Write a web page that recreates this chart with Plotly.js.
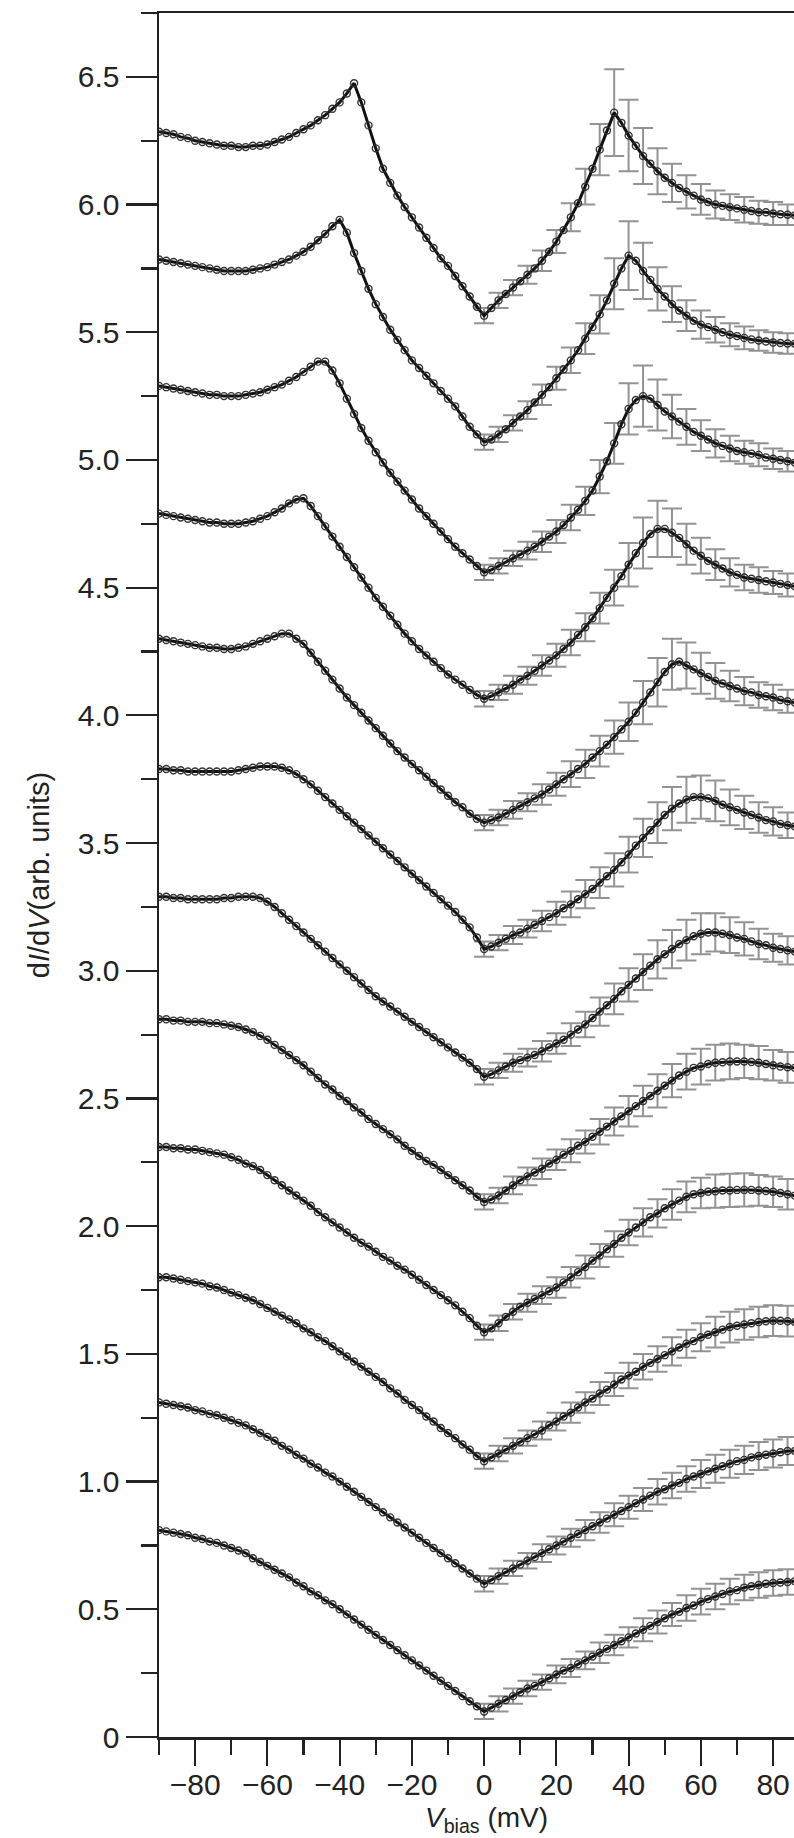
<!DOCTYPE html>
<html>
<head>
<meta charset="utf-8">
<script src="https://cdn.plot.ly/plotly-3.0.1.min.js"></script>
<style>
html,body{margin:0;padding:0;background:#fff;}
#chart{width:794px;height:1838px;}
</style>
</head>
<body>
<div id="chart"></div>
<script>
// Bias voltage grid (mV)
const biasMV = [-90,-88,-86,-84,-82,-80,-78,-76,-74,-72,
  -70,-68,-66,-64,-62,-60,-58,-56,-54,-52,
  -50,-48,-46,-44,-42,-40,-38,-36,-34,-32,
  -30,-28,-26,-24,-22,-20,-18,-16,-14,-12,
  -10,-8,-6,-4,-2,0,2,4,6,8,
  10,12,14,16,18,20,22,24,26,28,
  30,32,34,36,38,40,42,44,46,48,
  50,52,54,56,58,60,62,64,66,68,
  70,72,74,76,78,80,82,84,86];

// Bias values that carry error bars (mV)
const errBiasMV = [0,4,8,12,16,20,24,28,32,36,40,44,48,52,56,60,64,68,72,76,80,84];

// dI/dV spectra (offset), bottom (00) to top (11)
const dIdV_00 = [0.81,0.805,0.80,0.795,0.79,0.78,0.775,0.765,0.76,0.75,
  0.74,0.73,0.72,0.70,0.685,0.67,0.655,0.64,0.625,0.605,
  0.59,0.57,0.555,0.535,0.52,0.50,0.48,0.46,0.44,0.42,
  0.40,0.38,0.36,0.34,0.32,0.30,0.28,0.26,0.24,0.22,
  0.20,0.18,0.16,0.14,0.12,0.10,0.115,0.13,0.145,0.16,
  0.175,0.19,0.20,0.215,0.23,0.245,0.26,0.27,0.285,0.30,
  0.315,0.33,0.345,0.36,0.375,0.39,0.405,0.42,0.435,0.45,
  0.465,0.48,0.49,0.505,0.515,0.53,0.54,0.55,0.56,0.57,
  0.575,0.585,0.59,0.595,0.60,0.603,0.605,0.607,0.61];
const dIdV_01 = [1.31,1.305,1.30,1.295,1.29,1.28,1.275,1.265,1.26,1.25,
  1.24,1.23,1.22,1.205,1.19,1.175,1.16,1.14,1.125,1.105,
  1.09,1.07,1.055,1.035,1.02,1.00,0.98,0.96,0.94,0.92,
  0.90,0.88,0.86,0.84,0.82,0.80,0.78,0.76,0.74,0.72,
  0.70,0.68,0.66,0.64,0.62,0.60,0.615,0.63,0.645,0.66,
  0.675,0.69,0.705,0.72,0.735,0.75,0.765,0.78,0.795,0.81,
  0.825,0.84,0.855,0.87,0.885,0.90,0.915,0.93,0.945,0.96,
  0.97,0.985,0.995,1.01,1.02,1.03,1.04,1.05,1.06,1.07,
  1.08,1.085,1.095,1.10,1.105,1.11,1.115,1.12,1.12];
const dIdV_02 = [1.80,1.80,1.795,1.79,1.785,1.78,1.775,1.765,1.76,1.75,
  1.74,1.73,1.72,1.71,1.695,1.68,1.665,1.65,1.635,1.62,
  1.60,1.585,1.565,1.55,1.53,1.51,1.49,1.47,1.45,1.43,
  1.41,1.39,1.365,1.345,1.32,1.30,1.28,1.255,1.235,1.21,
  1.19,1.17,1.145,1.125,1.10,1.08,1.095,1.11,1.125,1.14,
  1.155,1.17,1.185,1.20,1.22,1.235,1.255,1.27,1.29,1.31,
  1.325,1.345,1.36,1.38,1.40,1.415,1.43,1.45,1.465,1.48,
  1.495,1.51,1.525,1.54,1.55,1.565,1.575,1.585,1.595,1.605,
  1.61,1.615,1.62,1.625,1.628,1.63,1.63,1.628,1.625];
const dIdV_03 = [2.31,2.31,2.305,2.305,2.30,2.30,2.295,2.29,2.285,2.28,
  2.27,2.26,2.245,2.235,2.22,2.20,2.18,2.16,2.14,2.12,
  2.10,2.08,2.055,2.035,2.015,1.995,1.975,1.955,1.935,1.92,
  1.90,1.88,1.865,1.845,1.83,1.81,1.79,1.77,1.75,1.73,
  1.71,1.69,1.665,1.64,1.61,1.585,1.60,1.62,1.645,1.665,
  1.685,1.70,1.715,1.73,1.745,1.76,1.78,1.80,1.82,1.84,
  1.865,1.885,1.91,1.93,1.955,1.975,1.995,2.015,2.035,2.05,
  2.07,2.085,2.10,2.115,2.125,2.13,2.135,2.137,2.14,2.14,
  2.142,2.142,2.142,2.14,2.138,2.135,2.13,2.125,2.12];
const dIdV_04 = [2.81,2.81,2.805,2.805,2.80,2.80,2.80,2.795,2.795,2.79,
  2.785,2.78,2.77,2.76,2.745,2.73,2.71,2.69,2.67,2.65,
  2.63,2.605,2.58,2.555,2.535,2.51,2.49,2.465,2.445,2.42,
  2.40,2.38,2.36,2.34,2.315,2.295,2.275,2.255,2.24,2.22,
  2.20,2.18,2.16,2.14,2.115,2.095,2.105,2.12,2.14,2.16,
  2.18,2.195,2.21,2.225,2.245,2.26,2.28,2.295,2.315,2.33,
  2.35,2.37,2.39,2.41,2.43,2.45,2.47,2.49,2.51,2.53,
  2.55,2.57,2.59,2.605,2.62,2.625,2.635,2.64,2.642,2.645,
  2.645,2.645,2.643,2.64,2.635,2.63,2.625,2.622,2.62];
const dIdV_05 = [3.29,3.29,3.285,3.285,3.28,3.28,3.28,3.28,3.28,3.285,
  3.285,3.29,3.29,3.29,3.285,3.27,3.25,3.225,3.20,3.175,
  3.15,3.125,3.10,3.075,3.05,3.025,3.00,2.975,2.95,2.925,
  2.90,2.88,2.86,2.84,2.82,2.80,2.78,2.76,2.74,2.72,
  2.70,2.68,2.66,2.64,2.615,2.585,2.595,2.61,2.625,2.64,
  2.65,2.66,2.67,2.685,2.70,2.715,2.73,2.75,2.77,2.79,
  2.815,2.84,2.865,2.89,2.92,2.945,2.97,2.995,3.02,3.045,
  3.065,3.085,3.105,3.12,3.135,3.145,3.15,3.15,3.145,3.14,
  3.13,3.125,3.115,3.105,3.10,3.09,3.085,3.08,3.075];
const dIdV_06 = [3.79,3.79,3.785,3.785,3.78,3.78,3.78,3.78,3.78,3.78,
  3.78,3.785,3.79,3.795,3.80,3.80,3.80,3.795,3.785,3.77,
  3.75,3.73,3.705,3.68,3.655,3.63,3.605,3.58,3.555,3.53,
  3.505,3.48,3.455,3.43,3.405,3.38,3.355,3.33,3.305,3.28,
  3.255,3.23,3.20,3.17,3.13,3.085,3.095,3.11,3.125,3.14,
  3.15,3.165,3.18,3.195,3.21,3.225,3.245,3.26,3.28,3.30,
  3.32,3.345,3.37,3.395,3.425,3.455,3.49,3.52,3.55,3.58,
  3.61,3.635,3.655,3.67,3.68,3.68,3.675,3.665,3.65,3.64,
  3.63,3.62,3.61,3.60,3.59,3.585,3.575,3.57,3.565];
const dIdV_07 = [4.30,4.295,4.29,4.285,4.28,4.275,4.27,4.265,4.265,4.26,
  4.26,4.265,4.27,4.28,4.29,4.30,4.31,4.32,4.32,4.30,
  4.28,4.245,4.21,4.175,4.14,4.105,4.07,4.04,4.01,3.98,
  3.95,3.92,3.89,3.86,3.835,3.81,3.785,3.76,3.735,3.71,
  3.685,3.66,3.64,3.615,3.595,3.58,3.59,3.60,3.615,3.63,
  3.645,3.66,3.675,3.69,3.71,3.73,3.75,3.77,3.79,3.81,
  3.835,3.86,3.885,3.915,3.945,3.975,4.01,4.05,4.09,4.13,
  4.17,4.20,4.21,4.195,4.18,4.165,4.15,4.135,4.125,4.115,
  4.105,4.095,4.09,4.08,4.075,4.07,4.06,4.055,4.05];
const dIdV_08 = [4.79,4.785,4.78,4.775,4.77,4.765,4.76,4.755,4.755,4.75,
  4.75,4.75,4.755,4.76,4.77,4.78,4.795,4.81,4.83,4.845,
  4.85,4.82,4.78,4.74,4.70,4.66,4.62,4.58,4.54,4.50,
  4.46,4.425,4.39,4.355,4.32,4.29,4.26,4.235,4.21,4.185,
  4.16,4.14,4.12,4.10,4.08,4.065,4.075,4.09,4.105,4.12,
  4.14,4.155,4.175,4.195,4.215,4.235,4.26,4.285,4.315,4.345,
  4.38,4.42,4.46,4.50,4.545,4.59,4.635,4.675,4.71,4.73,
  4.73,4.715,4.695,4.67,4.645,4.625,4.605,4.59,4.575,4.56,
  4.55,4.54,4.535,4.53,4.525,4.52,4.515,4.51,4.505];
const dIdV_09 = [5.29,5.285,5.28,5.275,5.27,5.265,5.26,5.255,5.255,5.25,
  5.25,5.25,5.255,5.26,5.265,5.275,5.285,5.295,5.31,5.325,
  5.345,5.365,5.385,5.385,5.35,5.30,5.24,5.18,5.125,5.075,
  5.03,4.99,4.95,4.915,4.88,4.845,4.81,4.78,4.75,4.72,
  4.69,4.66,4.635,4.61,4.585,4.56,4.57,4.585,4.60,4.615,
  4.63,4.645,4.66,4.68,4.70,4.72,4.745,4.775,4.805,4.84,
  4.88,4.935,4.995,5.065,5.14,5.20,5.235,5.25,5.24,5.215,
  5.19,5.17,5.15,5.13,5.11,5.095,5.08,5.065,5.055,5.045,
  5.035,5.03,5.025,5.02,5.01,5.005,5.00,4.995,4.99];
const dIdV_10 = [5.785,5.78,5.775,5.77,5.765,5.76,5.755,5.75,5.745,5.74,
  5.74,5.74,5.74,5.745,5.75,5.755,5.765,5.775,5.785,5.80,
  5.815,5.835,5.86,5.885,5.915,5.94,5.89,5.81,5.74,5.67,
  5.61,5.56,5.51,5.47,5.43,5.39,5.36,5.33,5.30,5.27,
  5.24,5.21,5.17,5.13,5.10,5.07,5.08,5.10,5.12,5.145,
  5.17,5.195,5.225,5.255,5.285,5.32,5.355,5.39,5.43,5.475,
  5.52,5.57,5.625,5.69,5.75,5.80,5.78,5.74,5.705,5.67,
  5.64,5.61,5.585,5.565,5.545,5.53,5.52,5.51,5.50,5.49,
  5.485,5.478,5.472,5.468,5.464,5.46,5.458,5.456,5.455];
const dIdV_11 = [6.285,6.28,6.275,6.265,6.26,6.25,6.245,6.24,6.235,6.23,
  6.23,6.225,6.225,6.23,6.23,6.235,6.245,6.255,6.265,6.28,
  6.295,6.31,6.33,6.35,6.375,6.40,6.435,6.475,6.40,6.31,
  6.22,6.14,6.085,6.035,5.99,5.95,5.91,5.87,5.83,5.79,
  5.76,5.72,5.68,5.64,5.60,5.565,5.595,5.625,5.65,5.675,
  5.70,5.725,5.75,5.78,5.815,5.855,5.90,5.95,6.005,6.07,
  6.14,6.215,6.29,6.36,6.32,6.27,6.23,6.19,6.16,6.13,
  6.105,6.085,6.065,6.05,6.035,6.02,6.01,6.00,5.995,5.99,
  5.985,5.98,5.975,5.97,5.97,5.965,5.962,5.96,5.958];

// Error bar half-heights at errBiasMV
const err_00 = [0.03,0.03,0.03,0.03,0.03,0.035,0.035,0.035,0.04,0.04,0.04,0.045,0.045,0.045,0.05,0.05,0.05,0.05,0.05,0.05,0.05,0.05];
const err_01 = [0.03,0.03,0.03,0.03,0.035,0.035,0.035,0.04,0.04,0.045,0.045,0.045,0.05,0.05,0.05,0.055,0.055,0.055,0.055,0.055,0.055,0.055];
const err_02 = [0.03,0.03,0.03,0.03,0.035,0.035,0.04,0.04,0.045,0.045,0.05,0.05,0.05,0.055,0.055,0.055,0.06,0.06,0.06,0.06,0.06,0.06];
const err_03 = [0.03,0.03,0.03,0.035,0.035,0.04,0.04,0.045,0.045,0.05,0.05,0.055,0.055,0.06,0.06,0.06,0.065,0.065,0.065,0.06,0.06,0.06];
const err_04 = [0.03,0.03,0.035,0.035,0.04,0.04,0.045,0.045,0.05,0.055,0.06,0.06,0.065,0.065,0.07,0.07,0.07,0.07,0.065,0.065,0.06,0.06];
const err_05 = [0.03,0.03,0.035,0.035,0.04,0.04,0.045,0.05,0.055,0.06,0.065,0.07,0.075,0.075,0.08,0.08,0.075,0.07,0.065,0.06,0.055,0.055];
const err_06 = [0.03,0.03,0.035,0.035,0.04,0.045,0.05,0.055,0.06,0.065,0.07,0.075,0.08,0.085,0.09,0.085,0.08,0.07,0.065,0.06,0.055,0.05];
const err_07 = [0.03,0.03,0.035,0.035,0.04,0.045,0.05,0.055,0.06,0.065,0.075,0.085,0.095,0.10,0.09,0.08,0.07,0.06,0.055,0.05,0.05,0.045];
const err_08 = [0.03,0.03,0.035,0.035,0.04,0.045,0.05,0.055,0.06,0.07,0.085,0.10,0.11,0.095,0.08,0.07,0.06,0.055,0.05,0.05,0.045,0.045];
const err_09 = [0.03,0.03,0.03,0.035,0.04,0.045,0.05,0.055,0.065,0.08,0.10,0.12,0.10,0.085,0.07,0.06,0.055,0.05,0.045,0.045,0.04,0.04];
const err_10 = [0.03,0.03,0.03,0.035,0.04,0.045,0.05,0.06,0.075,0.10,0.135,0.11,0.085,0.07,0.06,0.055,0.05,0.045,0.045,0.04,0.04,0.04];
const err_11 = [0.03,0.03,0.03,0.035,0.04,0.045,0.055,0.07,0.10,0.17,0.14,0.11,0.09,0.075,0.065,0.06,0.055,0.05,0.05,0.045,0.045,0.04];

const spectra = [dIdV_00,dIdV_01,dIdV_02,dIdV_03,dIdV_04,dIdV_05,dIdV_06,dIdV_07,dIdV_08,dIdV_09,dIdV_10,dIdV_11];
const errors = [err_00,err_01,err_02,err_03,err_04,err_05,err_06,err_07,err_08,err_09,err_10,err_11];

const traces = [];
// error bars first (drawn beneath the curves)
spectra.forEach((ys, k) => {
  traces.push({
    type: 'scatter', mode: 'markers', hoverinfo: 'skip',
    x: errBiasMV,
    y: errBiasMV.map(v => ys[biasMV.indexOf(v)]),
    marker: {size: 1, opacity: 0},
    error_y: {type: 'data', array: errors[k], color: '#939393', thickness: 2, width: 10}
  });
});
spectra.forEach((ys) => {
  traces.push({
    type: 'scatter', mode: 'lines+markers',
    x: biasMV, y: ys,
    line: {color: '#111111', width: 3},
    marker: {symbol: 'circle-open', size: 7, color: '#333333', line: {width: 1.4}}
  });
});

const axisColor = '#222222';
const layout = {
  width: 794, height: 1838,
  margin: {l: 159, r: 0, t: 13, b: 101},
  showlegend: false,
  paper_bgcolor: '#ffffff', plot_bgcolor: '#ffffff',
  font: {family: '"Liberation Sans", Arial, sans-serif', size: 30, color: axisColor},
  xaxis: {
    range: [-90, 85.78], tickmode: 'linear', tick0: 0, dtick: 20,
    ticks: 'outside', ticklen: 26, tickwidth: 2.2, tickcolor: axisColor,
    ticklabelstandoff: -7,
    showline: true, linewidth: 2.5, linecolor: axisColor, mirror: true,
    showgrid: false, zeroline: false,
    tickfont: {size: 30, color: axisColor},
    minor: {tick0: 0, dtick: 10, ticks: 'outside', ticklen: 15, tickwidth: 2.2, tickcolor: axisColor, showgrid: false}
  },
  yaxis: {
    range: [0, 6.75], tickmode: 'linear', tick0: 0, dtick: 0.5, tickformat: '.1f',
    labelalias: {'0.0': '0'},
    ticks: 'outside', ticklen: 31, tickwidth: 2.2, tickcolor: axisColor,
    showline: true, linewidth: 2.5, linecolor: axisColor, mirror: false,
    showgrid: false, zeroline: false,
    tickfont: {size: 30, color: axisColor},
    minor: {tick0: 0, dtick: 0.25, ticks: 'outside', ticklen: 16, tickwidth: 2.2, tickcolor: axisColor, showgrid: false},
    title: {text: 'd<i>I</i>/d<i>V</i>(arb. units)', font: {size: 29, color: axisColor}, standoff: 20}
  },
  annotations: [{
    text: '<i>V</i><sub>bias</sub> (mV)',
    xref: 'paper', yref: 'paper', x: 0.515, y: -0.0365,
    xanchor: 'center', yanchor: 'top', showarrow: false,
    font: {size: 28, color: axisColor}
  }]
};

Plotly.newPlot('chart', traces, layout, {displayModeBar: false, staticPlot: true});
</script>
</body>
</html>
